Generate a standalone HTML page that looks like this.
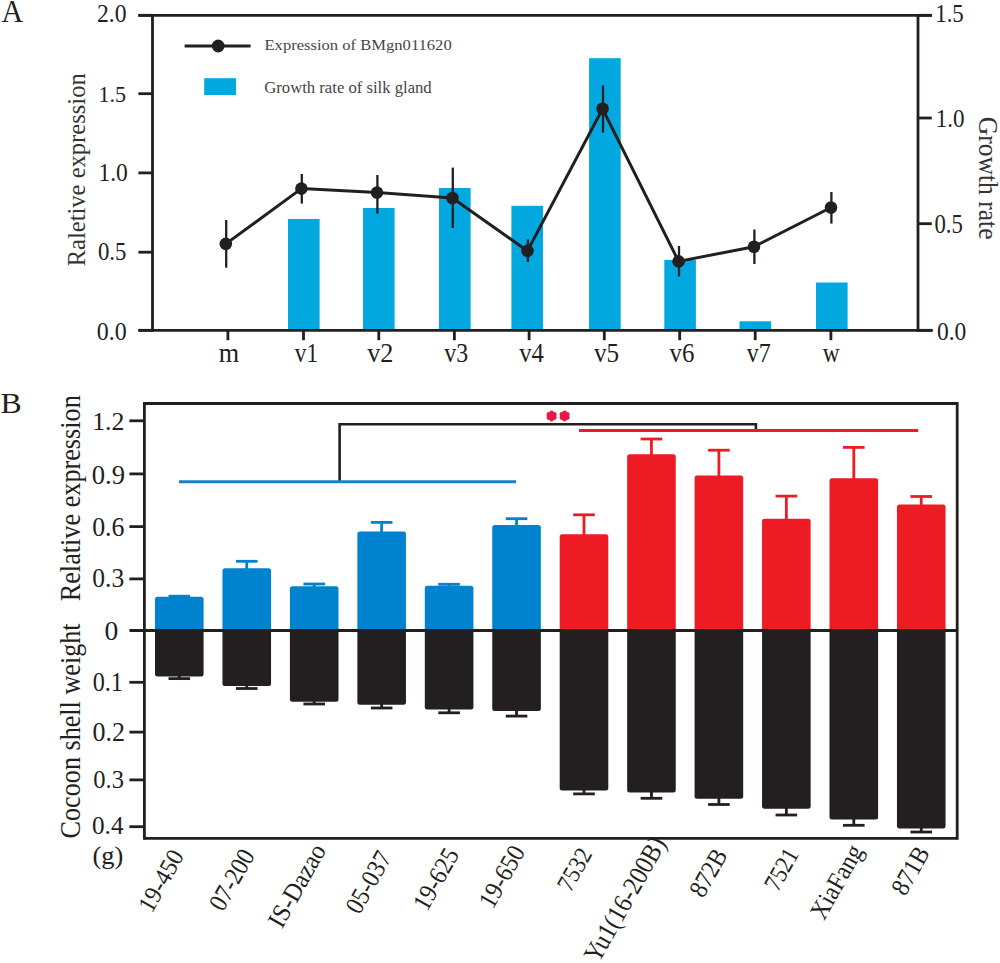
<!DOCTYPE html>
<html><head><meta charset="utf-8"><style>
html,body{margin:0;padding:0;background:#fff;}
svg{display:block;font-family:"Liberation Serif",serif;}
</style></head><body>
<svg width="1000" height="963" viewBox="0 0 1000 963">
<rect width="1000" height="963" fill="#fff"/>
<text id="A" x="1.50" y="21.80" font-size="30.5" fill="#231f20" textLength="21.70" lengthAdjust="spacingAndGlyphs">A</text>
<rect x="288.00" y="219.00" width="31.60" height="111.30" fill="#02a8df"/>
<rect x="363.00" y="208.00" width="31.60" height="122.30" fill="#02a8df"/>
<rect x="439.00" y="188.00" width="31.60" height="142.30" fill="#02a8df"/>
<rect x="511.40" y="205.80" width="31.60" height="124.50" fill="#02a8df"/>
<rect x="589.10" y="58.20" width="31.60" height="272.10" fill="#02a8df"/>
<rect x="664.30" y="259.90" width="31.60" height="70.40" fill="#02a8df"/>
<rect x="739.50" y="321.30" width="31.60" height="9.00" fill="#02a8df"/>
<rect x="816.00" y="282.50" width="31.60" height="47.80" fill="#02a8df"/>
<line x1="138.40" y1="15.30" x2="931.80" y2="15.30" stroke="#231f20" stroke-width="2.8" stroke-linecap="butt"/>
<line x1="152.50" y1="13.90" x2="152.50" y2="331.70" stroke="#231f20" stroke-width="2.8" stroke-linecap="butt"/>
<line x1="918.00" y1="13.90" x2="918.00" y2="331.70" stroke="#231f20" stroke-width="2.8" stroke-linecap="butt"/>
<line x1="138.40" y1="330.30" x2="932.80" y2="330.30" stroke="#231f20" stroke-width="2.8" stroke-linecap="butt"/>
<line x1="138.40" y1="15.30" x2="152.50" y2="15.30" stroke="#231f20" stroke-width="2.8" stroke-linecap="butt"/>
<line x1="138.40" y1="93.70" x2="152.50" y2="93.70" stroke="#231f20" stroke-width="2.8" stroke-linecap="butt"/>
<line x1="138.40" y1="172.90" x2="152.50" y2="172.90" stroke="#231f20" stroke-width="2.8" stroke-linecap="butt"/>
<line x1="138.40" y1="252.20" x2="152.50" y2="252.20" stroke="#231f20" stroke-width="2.8" stroke-linecap="butt"/>
<line x1="138.40" y1="330.30" x2="152.50" y2="330.30" stroke="#231f20" stroke-width="2.8" stroke-linecap="butt"/>
<line x1="918.00" y1="15.30" x2="931.80" y2="15.30" stroke="#231f20" stroke-width="2.8" stroke-linecap="butt"/>
<line x1="918.00" y1="118.00" x2="931.80" y2="118.00" stroke="#231f20" stroke-width="2.8" stroke-linecap="butt"/>
<line x1="918.00" y1="223.70" x2="931.80" y2="223.70" stroke="#231f20" stroke-width="2.8" stroke-linecap="butt"/>
<line x1="918.00" y1="330.30" x2="931.80" y2="330.30" stroke="#231f20" stroke-width="2.8" stroke-linecap="butt"/>
<line x1="227.90" y1="330.30" x2="227.90" y2="340.20" stroke="#231f20" stroke-width="2.8" stroke-linecap="butt"/>
<line x1="303.50" y1="330.30" x2="303.50" y2="340.20" stroke="#231f20" stroke-width="2.8" stroke-linecap="butt"/>
<line x1="378.80" y1="330.30" x2="378.80" y2="340.20" stroke="#231f20" stroke-width="2.8" stroke-linecap="butt"/>
<line x1="454.40" y1="330.30" x2="454.40" y2="340.20" stroke="#231f20" stroke-width="2.8" stroke-linecap="butt"/>
<line x1="529.10" y1="330.30" x2="529.10" y2="340.20" stroke="#231f20" stroke-width="2.8" stroke-linecap="butt"/>
<line x1="604.30" y1="330.30" x2="604.30" y2="340.20" stroke="#231f20" stroke-width="2.8" stroke-linecap="butt"/>
<line x1="679.70" y1="330.30" x2="679.70" y2="340.20" stroke="#231f20" stroke-width="2.8" stroke-linecap="butt"/>
<line x1="755.20" y1="330.30" x2="755.20" y2="340.20" stroke="#231f20" stroke-width="2.8" stroke-linecap="butt"/>
<line x1="830.90" y1="330.30" x2="830.90" y2="340.20" stroke="#231f20" stroke-width="2.8" stroke-linecap="butt"/>
<text id="AL2.0" x="126.50" y="22.00" font-size="25.51" fill="#231f20" text-anchor="end" textLength="29.60" lengthAdjust="spacingAndGlyphs">2.0</text>
<text id="AL1.5" x="126.00" y="101.90" font-size="23.97" fill="#231f20" text-anchor="end" textLength="27.60" lengthAdjust="spacingAndGlyphs">1.5</text>
<text id="AL1.0" x="127.78" y="181.10" font-size="26.01" fill="#231f20" text-anchor="end" textLength="29.40" lengthAdjust="spacingAndGlyphs">1.0</text>
<text id="AL0.5" x="126.29" y="260.40" font-size="26.01" fill="#231f20" text-anchor="end" textLength="28.40" lengthAdjust="spacingAndGlyphs">0.5</text>
<text id="AL0.0" x="126.72" y="339.50" font-size="26.01" fill="#231f20" text-anchor="end" textLength="29.90" lengthAdjust="spacingAndGlyphs">0.0</text>
<text id="AR1.5" x="935.20" y="22.00" font-size="25.51" fill="#231f20" textLength="28.60" lengthAdjust="spacingAndGlyphs">1.5</text>
<text id="AR1.0" x="935.70" y="126.70" font-size="25.51" fill="#231f20" textLength="28.80" lengthAdjust="spacingAndGlyphs">1.0</text>
<text id="AR0.5" x="934.45" y="232.65" font-size="26.25" fill="#231f20" textLength="28.40" lengthAdjust="spacingAndGlyphs">0.5</text>
<text id="AR0.0" x="936.91" y="339.75" font-size="24.71" fill="#231f20" textLength="29.40" lengthAdjust="spacingAndGlyphs">0.0</text>
<text id="AXm" x="229.00" y="362.20" font-size="26.5" fill="#231f20" text-anchor="middle" textLength="20.40" lengthAdjust="spacingAndGlyphs">m</text>
<text id="AXv1" x="306.40" y="362.20" font-size="26.5" fill="#231f20" text-anchor="middle" textLength="23.10" lengthAdjust="spacingAndGlyphs">v1</text>
<text id="AXv2" x="380.30" y="362.20" font-size="26.5" fill="#231f20" text-anchor="middle" textLength="26.30" lengthAdjust="spacingAndGlyphs">v2</text>
<text id="AXv3" x="456.20" y="362.20" font-size="26.5" fill="#231f20" text-anchor="middle" textLength="23.90" lengthAdjust="spacingAndGlyphs">v3</text>
<text id="AXv4" x="531.60" y="362.20" font-size="26.5" fill="#231f20" text-anchor="middle" textLength="24.70" lengthAdjust="spacingAndGlyphs">v4</text>
<text id="AXv5" x="606.50" y="362.20" font-size="26.5" fill="#231f20" text-anchor="middle" textLength="25.10" lengthAdjust="spacingAndGlyphs">v5</text>
<text id="AXv6" x="681.90" y="362.20" font-size="26.5" fill="#231f20" text-anchor="middle" textLength="24.90" lengthAdjust="spacingAndGlyphs">v6</text>
<text id="AXv7" x="758.80" y="362.20" font-size="26.5" fill="#231f20" text-anchor="middle" textLength="23.90" lengthAdjust="spacingAndGlyphs">v7</text>
<text id="AXw" x="831.20" y="362.20" font-size="26.5" fill="#231f20" text-anchor="middle" textLength="16.90" lengthAdjust="spacingAndGlyphs">w</text>
<text id="AYL" x="0.00" y="0.00" font-size="26" fill="#333333" textLength="193.00" lengthAdjust="spacingAndGlyphs" transform="translate(0.05,0.70) translate(85.4,265.6) rotate(-90)">Raletive expression</text>
<text id="AYR" x="0.00" y="0.00" font-size="27" fill="#333333" textLength="122.70" lengthAdjust="spacingAndGlyphs" transform="translate(0.50,0.35) translate(978.3,116.5) rotate(90)">Growth rate</text>
<line x1="184.60" y1="46.00" x2="250.60" y2="46.00" stroke="#231f20" stroke-width="3" stroke-linecap="butt"/>
<circle cx="218.2" cy="46" r="6.4" fill="#231f20"/>
<rect x="204.20" y="78.20" width="31.80" height="16.80" fill="#02a8df"/>
<text id="LG1" x="264.50" y="50.45" font-size="15.1" fill="#454545" textLength="187.20" lengthAdjust="spacingAndGlyphs">Expression of BMgn011620</text>
<text id="LG2" x="264.30" y="93.00" font-size="16" fill="#454545" textLength="167.40" lengthAdjust="spacingAndGlyphs">Growth rate of silk gland</text>
<line x1="226.20" y1="220.00" x2="226.20" y2="267.70" stroke="#231f20" stroke-width="2.3" stroke-linecap="butt"/>
<line x1="301.80" y1="174.00" x2="301.80" y2="203.60" stroke="#231f20" stroke-width="2.3" stroke-linecap="butt"/>
<line x1="377.40" y1="175.00" x2="377.40" y2="213.60" stroke="#231f20" stroke-width="2.3" stroke-linecap="butt"/>
<line x1="452.80" y1="167.60" x2="452.80" y2="228.00" stroke="#231f20" stroke-width="2.3" stroke-linecap="butt"/>
<line x1="527.90" y1="239.50" x2="527.90" y2="262.00" stroke="#231f20" stroke-width="2.3" stroke-linecap="butt"/>
<line x1="603.00" y1="85.50" x2="603.00" y2="132.70" stroke="#231f20" stroke-width="2.3" stroke-linecap="butt"/>
<line x1="679.00" y1="246.00" x2="679.00" y2="276.40" stroke="#231f20" stroke-width="2.3" stroke-linecap="butt"/>
<line x1="754.40" y1="229.50" x2="754.40" y2="264.00" stroke="#231f20" stroke-width="2.3" stroke-linecap="butt"/>
<line x1="831.40" y1="192.00" x2="831.40" y2="223.60" stroke="#231f20" stroke-width="2.3" stroke-linecap="butt"/>
<polyline points="225.8,243.9 301.4,188.6 377,192.6 452.4,198 527.5,250.9 602.6,108.8 678.6,261.4 754,246.7 831,207.5" fill="none" stroke="#231f20" stroke-width="3" stroke-linejoin="round"/>
<circle cx="225.8" cy="243.9" r="6.3" fill="#231f20"/>
<circle cx="301.4" cy="188.6" r="6.3" fill="#231f20"/>
<circle cx="377" cy="192.6" r="6.3" fill="#231f20"/>
<circle cx="452.4" cy="198" r="6.3" fill="#231f20"/>
<circle cx="527.5" cy="250.9" r="6.3" fill="#231f20"/>
<circle cx="602.6" cy="108.8" r="6.3" fill="#231f20"/>
<circle cx="678.6" cy="261.4" r="6.3" fill="#231f20"/>
<circle cx="754" cy="246.7" r="6.3" fill="#231f20"/>
<circle cx="831" cy="207.5" r="6.3" fill="#231f20"/>
<text id="B" x="0.50" y="413.30" font-size="29.37" fill="#231f20" textLength="21.20" lengthAdjust="spacingAndGlyphs">B</text>
<line x1="179.30" y1="596.20" x2="179.30" y2="598.80" stroke="#0083ce" stroke-width="2.8" stroke-linecap="butt"/>
<line x1="168.50" y1="596.20" x2="190.10" y2="596.20" stroke="#0083ce" stroke-width="2.8" stroke-linecap="butt"/>
<path d="M155.00,630.50 L155.00,599.30 Q155.00,596.80 157.50,596.80 L201.10,596.80 Q203.60,596.80 203.60,599.30 L203.60,630.50 Z" fill="#0083ce"/>
<line x1="179.30" y1="674.40" x2="179.30" y2="678.60" stroke="#231f20" stroke-width="2.8" stroke-linecap="butt"/>
<line x1="168.50" y1="678.60" x2="190.10" y2="678.60" stroke="#231f20" stroke-width="2.8" stroke-linecap="butt"/>
<path d="M155.00,630.50 L203.60,630.50 L203.60,673.90 Q203.60,676.40 201.10,676.40 L157.50,676.40 Q155.00,676.40 155.00,673.90 Z" fill="#231f20"/>
<line x1="246.75" y1="561.30" x2="246.75" y2="570.20" stroke="#0083ce" stroke-width="2.8" stroke-linecap="butt"/>
<line x1="235.95" y1="561.30" x2="257.55" y2="561.30" stroke="#0083ce" stroke-width="2.8" stroke-linecap="butt"/>
<path d="M222.45,630.50 L222.45,570.70 Q222.45,568.20 224.95,568.20 L268.55,568.20 Q271.05,568.20 271.05,570.70 L271.05,630.50 Z" fill="#0083ce"/>
<line x1="246.75" y1="683.90" x2="246.75" y2="688.50" stroke="#231f20" stroke-width="2.8" stroke-linecap="butt"/>
<line x1="235.95" y1="688.50" x2="257.55" y2="688.50" stroke="#231f20" stroke-width="2.8" stroke-linecap="butt"/>
<path d="M222.45,630.50 L271.05,630.50 L271.05,683.40 Q271.05,685.90 268.55,685.90 L224.95,685.90 Q222.45,685.90 222.45,683.40 Z" fill="#231f20"/>
<line x1="314.20" y1="584.00" x2="314.20" y2="588.20" stroke="#0083ce" stroke-width="2.8" stroke-linecap="butt"/>
<line x1="303.40" y1="584.00" x2="325.00" y2="584.00" stroke="#0083ce" stroke-width="2.8" stroke-linecap="butt"/>
<path d="M289.90,630.50 L289.90,588.70 Q289.90,586.20 292.40,586.20 L336.00,586.20 Q338.50,586.20 338.50,588.70 L338.50,630.50 Z" fill="#0083ce"/>
<line x1="314.20" y1="699.70" x2="314.20" y2="704.00" stroke="#231f20" stroke-width="2.8" stroke-linecap="butt"/>
<line x1="303.40" y1="704.00" x2="325.00" y2="704.00" stroke="#231f20" stroke-width="2.8" stroke-linecap="butt"/>
<path d="M289.90,630.50 L338.50,630.50 L338.50,699.20 Q338.50,701.70 336.00,701.70 L292.40,701.70 Q289.90,701.70 289.90,699.20 Z" fill="#231f20"/>
<line x1="381.65" y1="522.40" x2="381.65" y2="533.50" stroke="#0083ce" stroke-width="2.8" stroke-linecap="butt"/>
<line x1="370.85" y1="522.40" x2="392.45" y2="522.40" stroke="#0083ce" stroke-width="2.8" stroke-linecap="butt"/>
<path d="M357.35,630.50 L357.35,534.00 Q357.35,531.50 359.85,531.50 L403.45,531.50 Q405.95,531.50 405.95,534.00 L405.95,630.50 Z" fill="#0083ce"/>
<line x1="381.65" y1="702.70" x2="381.65" y2="708.00" stroke="#231f20" stroke-width="2.8" stroke-linecap="butt"/>
<line x1="370.85" y1="708.00" x2="392.45" y2="708.00" stroke="#231f20" stroke-width="2.8" stroke-linecap="butt"/>
<path d="M357.35,630.50 L405.95,630.50 L405.95,702.20 Q405.95,704.70 403.45,704.70 L359.85,704.70 Q357.35,704.70 357.35,702.20 Z" fill="#231f20"/>
<line x1="449.10" y1="584.30" x2="449.10" y2="587.80" stroke="#0083ce" stroke-width="2.8" stroke-linecap="butt"/>
<line x1="438.30" y1="584.30" x2="459.90" y2="584.30" stroke="#0083ce" stroke-width="2.8" stroke-linecap="butt"/>
<path d="M424.80,630.50 L424.80,588.30 Q424.80,585.80 427.30,585.80 L470.90,585.80 Q473.40,585.80 473.40,588.30 L473.40,630.50 Z" fill="#0083ce"/>
<line x1="449.10" y1="707.50" x2="449.10" y2="712.80" stroke="#231f20" stroke-width="2.8" stroke-linecap="butt"/>
<line x1="438.30" y1="712.80" x2="459.90" y2="712.80" stroke="#231f20" stroke-width="2.8" stroke-linecap="butt"/>
<path d="M424.80,630.50 L473.40,630.50 L473.40,707.00 Q473.40,709.50 470.90,709.50 L427.30,709.50 Q424.80,709.50 424.80,707.00 Z" fill="#231f20"/>
<line x1="516.55" y1="518.70" x2="516.55" y2="526.90" stroke="#0083ce" stroke-width="2.8" stroke-linecap="butt"/>
<line x1="505.75" y1="518.70" x2="527.35" y2="518.70" stroke="#0083ce" stroke-width="2.8" stroke-linecap="butt"/>
<path d="M492.25,630.50 L492.25,527.40 Q492.25,524.90 494.75,524.90 L538.35,524.90 Q540.85,524.90 540.85,527.40 L540.85,630.50 Z" fill="#0083ce"/>
<line x1="516.55" y1="708.90" x2="516.55" y2="716.10" stroke="#231f20" stroke-width="2.8" stroke-linecap="butt"/>
<line x1="505.75" y1="716.10" x2="527.35" y2="716.10" stroke="#231f20" stroke-width="2.8" stroke-linecap="butt"/>
<path d="M492.25,630.50 L540.85,630.50 L540.85,708.40 Q540.85,710.90 538.35,710.90 L494.75,710.90 Q492.25,710.90 492.25,708.40 Z" fill="#231f20"/>
<line x1="584.00" y1="514.80" x2="584.00" y2="536.20" stroke="#ed1c24" stroke-width="2.8" stroke-linecap="butt"/>
<line x1="573.20" y1="514.80" x2="594.80" y2="514.80" stroke="#ed1c24" stroke-width="2.8" stroke-linecap="butt"/>
<path d="M559.70,630.50 L559.70,536.70 Q559.70,534.20 562.20,534.20 L605.80,534.20 Q608.30,534.20 608.30,536.70 L608.30,630.50 Z" fill="#ed1c24"/>
<line x1="584.00" y1="788.60" x2="584.00" y2="793.90" stroke="#231f20" stroke-width="2.8" stroke-linecap="butt"/>
<line x1="573.20" y1="793.90" x2="594.80" y2="793.90" stroke="#231f20" stroke-width="2.8" stroke-linecap="butt"/>
<path d="M559.70,630.50 L608.30,630.50 L608.30,788.10 Q608.30,790.60 605.80,790.60 L562.20,790.60 Q559.70,790.60 559.70,788.10 Z" fill="#231f20"/>
<line x1="651.45" y1="439.00" x2="651.45" y2="456.30" stroke="#ed1c24" stroke-width="2.8" stroke-linecap="butt"/>
<line x1="640.65" y1="439.00" x2="662.25" y2="439.00" stroke="#ed1c24" stroke-width="2.8" stroke-linecap="butt"/>
<path d="M627.15,630.50 L627.15,456.80 Q627.15,454.30 629.65,454.30 L673.25,454.30 Q675.75,454.30 675.75,456.80 L675.75,630.50 Z" fill="#ed1c24"/>
<line x1="651.45" y1="790.40" x2="651.45" y2="798.30" stroke="#231f20" stroke-width="2.8" stroke-linecap="butt"/>
<line x1="640.65" y1="798.30" x2="662.25" y2="798.30" stroke="#231f20" stroke-width="2.8" stroke-linecap="butt"/>
<path d="M627.15,630.50 L675.75,630.50 L675.75,789.90 Q675.75,792.40 673.25,792.40 L629.65,792.40 Q627.15,792.40 627.15,789.90 Z" fill="#231f20"/>
<line x1="718.90" y1="450.20" x2="718.90" y2="477.50" stroke="#ed1c24" stroke-width="2.8" stroke-linecap="butt"/>
<line x1="708.10" y1="450.20" x2="729.70" y2="450.20" stroke="#ed1c24" stroke-width="2.8" stroke-linecap="butt"/>
<path d="M694.60,630.50 L694.60,478.00 Q694.60,475.50 697.10,475.50 L740.70,475.50 Q743.20,475.50 743.20,478.00 L743.20,630.50 Z" fill="#ed1c24"/>
<line x1="718.90" y1="796.70" x2="718.90" y2="804.50" stroke="#231f20" stroke-width="2.8" stroke-linecap="butt"/>
<line x1="708.10" y1="804.50" x2="729.70" y2="804.50" stroke="#231f20" stroke-width="2.8" stroke-linecap="butt"/>
<path d="M694.60,630.50 L743.20,630.50 L743.20,796.20 Q743.20,798.70 740.70,798.70 L697.10,798.70 Q694.60,798.70 694.60,796.20 Z" fill="#231f20"/>
<line x1="786.35" y1="496.10" x2="786.35" y2="520.70" stroke="#ed1c24" stroke-width="2.8" stroke-linecap="butt"/>
<line x1="775.55" y1="496.10" x2="797.15" y2="496.10" stroke="#ed1c24" stroke-width="2.8" stroke-linecap="butt"/>
<path d="M762.05,630.50 L762.05,521.20 Q762.05,518.70 764.55,518.70 L808.15,518.70 Q810.65,518.70 810.65,521.20 L810.65,630.50 Z" fill="#ed1c24"/>
<line x1="786.35" y1="806.80" x2="786.35" y2="815.00" stroke="#231f20" stroke-width="2.8" stroke-linecap="butt"/>
<line x1="775.55" y1="815.00" x2="797.15" y2="815.00" stroke="#231f20" stroke-width="2.8" stroke-linecap="butt"/>
<path d="M762.05,630.50 L810.65,630.50 L810.65,806.30 Q810.65,808.80 808.15,808.80 L764.55,808.80 Q762.05,808.80 762.05,806.30 Z" fill="#231f20"/>
<line x1="853.80" y1="447.40" x2="853.80" y2="480.30" stroke="#ed1c24" stroke-width="2.8" stroke-linecap="butt"/>
<line x1="843.00" y1="447.40" x2="864.60" y2="447.40" stroke="#ed1c24" stroke-width="2.8" stroke-linecap="butt"/>
<path d="M829.50,630.50 L829.50,480.80 Q829.50,478.30 832.00,478.30 L875.60,478.30 Q878.10,478.30 878.10,480.80 L878.10,630.50 Z" fill="#ed1c24"/>
<line x1="853.80" y1="817.40" x2="853.80" y2="825.30" stroke="#231f20" stroke-width="2.8" stroke-linecap="butt"/>
<line x1="843.00" y1="825.30" x2="864.60" y2="825.30" stroke="#231f20" stroke-width="2.8" stroke-linecap="butt"/>
<path d="M829.50,630.50 L878.10,630.50 L878.10,816.90 Q878.10,819.40 875.60,819.40 L832.00,819.40 Q829.50,819.40 829.50,816.90 Z" fill="#231f20"/>
<line x1="921.25" y1="496.50" x2="921.25" y2="506.50" stroke="#ed1c24" stroke-width="2.8" stroke-linecap="butt"/>
<line x1="910.45" y1="496.50" x2="932.05" y2="496.50" stroke="#ed1c24" stroke-width="2.8" stroke-linecap="butt"/>
<path d="M896.95,630.50 L896.95,507.00 Q896.95,504.50 899.45,504.50 L943.05,504.50 Q945.55,504.50 945.55,507.00 L945.55,630.50 Z" fill="#ed1c24"/>
<line x1="921.25" y1="826.60" x2="921.25" y2="832.00" stroke="#231f20" stroke-width="2.8" stroke-linecap="butt"/>
<line x1="910.45" y1="832.00" x2="932.05" y2="832.00" stroke="#231f20" stroke-width="2.8" stroke-linecap="butt"/>
<path d="M896.95,630.50 L945.55,630.50 L945.55,826.10 Q945.55,828.60 943.05,828.60 L899.45,828.60 Q896.95,828.60 896.95,826.10 Z" fill="#231f20"/>
<line x1="144.40" y1="403.50" x2="957.20" y2="403.50" stroke="#231f20" stroke-width="2.8" stroke-linecap="butt"/>
<line x1="144.40" y1="402.10" x2="144.40" y2="839.80" stroke="#231f20" stroke-width="2.8" stroke-linecap="butt"/>
<line x1="957.20" y1="402.10" x2="957.20" y2="839.80" stroke="#231f20" stroke-width="2.8" stroke-linecap="butt"/>
<line x1="144.40" y1="838.40" x2="957.20" y2="838.40" stroke="#231f20" stroke-width="2.8" stroke-linecap="butt"/>
<line x1="129.40" y1="630.50" x2="957.20" y2="630.50" stroke="#231f20" stroke-width="2.8" stroke-linecap="butt"/>
<line x1="129.40" y1="420.80" x2="144.40" y2="420.80" stroke="#231f20" stroke-width="2.8" stroke-linecap="butt"/>
<line x1="129.40" y1="473.90" x2="144.40" y2="473.90" stroke="#231f20" stroke-width="2.8" stroke-linecap="butt"/>
<line x1="129.40" y1="526.60" x2="144.40" y2="526.60" stroke="#231f20" stroke-width="2.8" stroke-linecap="butt"/>
<line x1="129.40" y1="578.90" x2="144.40" y2="578.90" stroke="#231f20" stroke-width="2.8" stroke-linecap="butt"/>
<line x1="129.40" y1="682.30" x2="144.40" y2="682.30" stroke="#231f20" stroke-width="2.8" stroke-linecap="butt"/>
<line x1="129.40" y1="732.10" x2="144.40" y2="732.10" stroke="#231f20" stroke-width="2.8" stroke-linecap="butt"/>
<line x1="129.40" y1="779.90" x2="144.40" y2="779.90" stroke="#231f20" stroke-width="2.8" stroke-linecap="butt"/>
<line x1="129.40" y1="826.70" x2="144.40" y2="826.70" stroke="#231f20" stroke-width="2.8" stroke-linecap="butt"/>
<text id="BU1.2" x="124.50" y="430.20" font-size="25.42" fill="#231f20" text-anchor="end" textLength="32.30" lengthAdjust="spacingAndGlyphs">1.2</text>
<text id="BU0.9" x="125.00" y="484.30" font-size="26.3" fill="#231f20" text-anchor="end" textLength="33.30" lengthAdjust="spacingAndGlyphs">0.9</text>
<text id="BU0.6" x="124.50" y="536.00" font-size="26.3" fill="#231f20" text-anchor="end" textLength="32.30" lengthAdjust="spacingAndGlyphs">0.6</text>
<text id="BU0.3" x="124.20" y="586.70" font-size="26.3" fill="#231f20" text-anchor="end" textLength="31.90" lengthAdjust="spacingAndGlyphs">0.3</text>
<text id="B0" x="118.20" y="639.60" font-size="26.3" fill="#231f20" text-anchor="end" textLength="13.80" lengthAdjust="spacingAndGlyphs">0</text>
<text id="BD0.1" x="123.00" y="691.10" font-size="26.3" fill="#231f20" text-anchor="end" textLength="30.30" lengthAdjust="spacingAndGlyphs">0.1</text>
<text id="BD0.2" x="125.00" y="740.90" font-size="26.3" fill="#231f20" text-anchor="end" textLength="32.50" lengthAdjust="spacingAndGlyphs">0.2</text>
<text id="BD0.3" x="124.00" y="787.70" font-size="24.84" fill="#231f20" text-anchor="end" textLength="30.70" lengthAdjust="spacingAndGlyphs">0.3</text>
<text id="BD0.4" x="123.50" y="833.80" font-size="24.99" fill="#231f20" text-anchor="end" textLength="31.50" lengthAdjust="spacingAndGlyphs">0.4</text>
<text id="Bg" x="92.50" y="864.00" font-size="25.62" fill="#231f20" textLength="30.90" lengthAdjust="spacingAndGlyphs">(g)</text>
<text id="BYU" x="0.00" y="0.00" font-size="29" fill="#231f20" textLength="206.00" lengthAdjust="spacingAndGlyphs" transform="translate(-0.35,-0.15) translate(79.9,601.4) rotate(-90)">Relative expression</text>
<text id="BYD" x="0.00" y="0.00" font-size="29" fill="#231f20" textLength="215.00" lengthAdjust="spacingAndGlyphs" transform="translate(-5.55,-0.10) translate(85.1,838.5) rotate(-90)">Cocoon shell weight</text>
<line x1="339.60" y1="424.20" x2="755.90" y2="424.20" stroke="#231f20" stroke-width="2.6" stroke-linecap="butt"/>
<line x1="339.60" y1="423.00" x2="339.60" y2="482.00" stroke="#231f20" stroke-width="2.6" stroke-linecap="butt"/>
<line x1="755.90" y1="423.00" x2="755.90" y2="430.50" stroke="#231f20" stroke-width="2.6" stroke-linecap="butt"/>
<line x1="179.00" y1="481.80" x2="516.00" y2="481.80" stroke="#1a80c4" stroke-width="3" stroke-linecap="butt"/>
<line x1="579.00" y1="430.50" x2="918.20" y2="430.50" stroke="#ed1c24" stroke-width="3" stroke-linecap="butt"/>
<circle cx="551.6" cy="416" r="3.13" fill="#e8184a"/>
<circle cx="551.60" cy="412.76" r="2.27" fill="#e8184a"/>
<circle cx="554.41" cy="414.38" r="2.27" fill="#e8184a"/>
<circle cx="554.41" cy="417.62" r="2.27" fill="#e8184a"/>
<circle cx="551.60" cy="419.24" r="2.27" fill="#e8184a"/>
<circle cx="548.79" cy="417.62" r="2.27" fill="#e8184a"/>
<circle cx="548.79" cy="414.38" r="2.27" fill="#e8184a"/>
<circle cx="564.6" cy="416" r="3.13" fill="#e8184a"/>
<circle cx="564.60" cy="412.76" r="2.27" fill="#e8184a"/>
<circle cx="567.41" cy="414.38" r="2.27" fill="#e8184a"/>
<circle cx="567.41" cy="417.62" r="2.27" fill="#e8184a"/>
<circle cx="564.60" cy="419.24" r="2.27" fill="#e8184a"/>
<circle cx="561.79" cy="417.62" r="2.27" fill="#e8184a"/>
<circle cx="561.79" cy="414.38" r="2.27" fill="#e8184a"/>
<text id="XL0" x="0.00" y="0.00" font-size="25.08" fill="#231f20" text-anchor="end" textLength="67.09" lengthAdjust="spacingAndGlyphs" transform="translate(1.40,-2.30) translate(183.30,858) rotate(-60.5)">19-450</text>
<text id="XL1" x="0.00" y="0.00" font-size="26" fill="#231f20" text-anchor="end" textLength="65.69" lengthAdjust="spacingAndGlyphs" transform="translate(4.70,-2.70) translate(250.75,858) rotate(-60.5)">07-200</text>
<text id="XL2" x="0.00" y="0.00" font-size="26" fill="#231f20" text-anchor="end" textLength="91.16" lengthAdjust="spacingAndGlyphs" transform="translate(8.60,-7.80) translate(318.20,858) rotate(-60.5)">IS-Dazao</text>
<text id="XL3" x="0.00" y="0.00" font-size="26" fill="#231f20" text-anchor="end" textLength="66.89" lengthAdjust="spacingAndGlyphs" transform="translate(6.70,-0.80) translate(385.65,858) rotate(-60.5)">05-037</text>
<text id="XL4" x="0.00" y="0.00" font-size="26" fill="#231f20" text-anchor="end" textLength="66.49" lengthAdjust="spacingAndGlyphs" transform="translate(6.70,-3.60) translate(453.10,858) rotate(-60.5)">19-625</text>
<text id="XL5" x="0.00" y="0.00" font-size="26" fill="#231f20" text-anchor="end" textLength="67.09" lengthAdjust="spacingAndGlyphs" transform="translate(5.20,-6.40) translate(520.55,858) rotate(-60.5)">19-650</text>
<text id="XL6" x="0.00" y="0.00" font-size="25.0" fill="#231f20" text-anchor="end" textLength="45.20" lengthAdjust="spacingAndGlyphs" transform="translate(4.80,-4.20) translate(588.00,858) rotate(-60.5)">7532</text>
<text id="XL7" x="0.00" y="0.00" font-size="26.99" fill="#231f20" text-anchor="end" textLength="138.79" lengthAdjust="spacingAndGlyphs" transform="translate(11.40,-14.75) translate(655.45,858) rotate(-60.5)">Yu1(16-200B)</text>
<text id="XL8" x="0.00" y="0.00" font-size="26" fill="#231f20" text-anchor="end" textLength="50.91" lengthAdjust="spacingAndGlyphs" transform="translate(5.30,-3.20) translate(722.90,858) rotate(-60.5)">872B</text>
<text id="XL9" x="0.00" y="0.00" font-size="25.2" fill="#231f20" text-anchor="end" textLength="44.40" lengthAdjust="spacingAndGlyphs" transform="translate(9.20,-3.90) translate(790.35,858) rotate(-60.5)">7521</text>
<text id="XL10" x="0.00" y="0.00" font-size="26" fill="#231f20" text-anchor="end" textLength="80.98" lengthAdjust="spacingAndGlyphs" transform="translate(6.00,-7.30) translate(857.80,858) rotate(-60.5)">XiaFang</text>
<text id="XL11" x="0.00" y="0.00" font-size="26" fill="#231f20" text-anchor="end" textLength="51.11" lengthAdjust="spacingAndGlyphs" transform="translate(5.20,-5.40) translate(925.25,858) rotate(-60.5)">871B</text>
</svg>
</body></html>
